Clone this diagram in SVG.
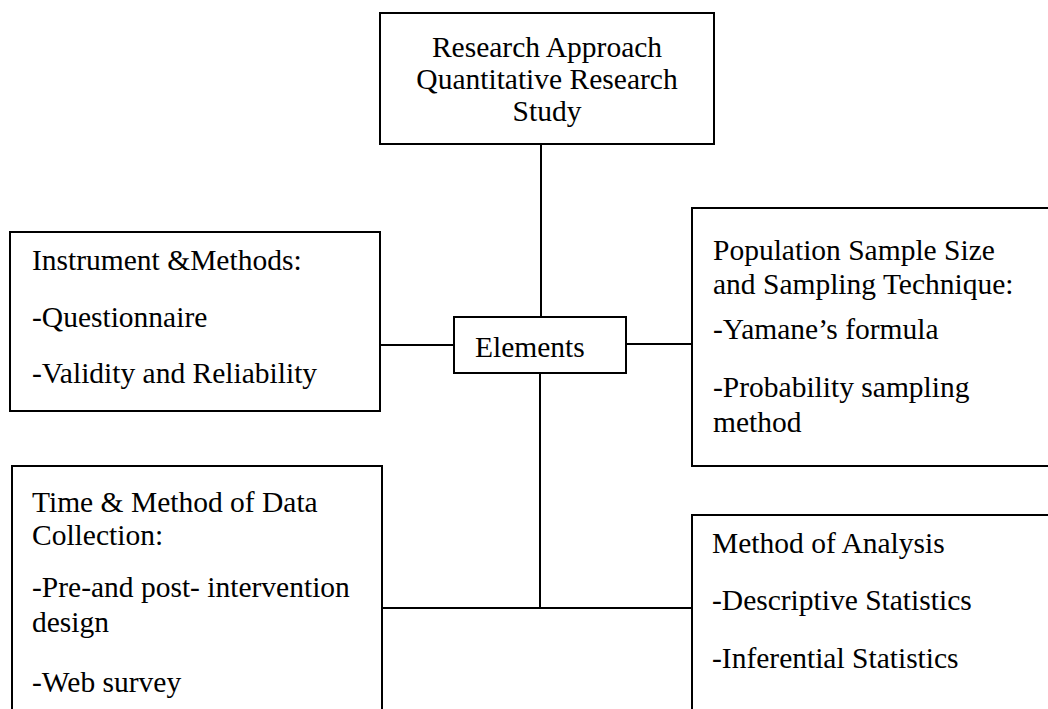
<svg xmlns="http://www.w3.org/2000/svg" width="1048" height="709" viewBox="0 0 1048 709">
<style>
.box{fill:#fff;stroke:#000;stroke-width:2}
.ln{stroke:#000;stroke-width:2;fill:none}
text{font-family:"Liberation Serif","Times New Roman",serif;font-size:29.5px;fill:#000}
.c{text-anchor:middle}
</style>
<rect width="1048" height="709" fill="#fff"/>
<g id="connectors">
<line class="ln" x1="541" y1="144" x2="541" y2="317"/>
<line class="ln" x1="380" y1="345" x2="454" y2="345"/>
<line class="ln" x1="626" y1="344" x2="692" y2="344"/>
<line class="ln" x1="540" y1="373" x2="540" y2="608"/>
<line class="ln" x1="382" y1="608" x2="692" y2="608"/>
</g>
<g id="approach">
<rect class="box" x="380" y="13" width="334" height="131"/>
<text class="c" x="547" y="57">Research Approach</text>
<text class="c" x="547" y="89">Quantitative Research</text>
<text class="c" x="547" y="121">Study</text>
</g>
<g id="instrument">
<rect class="box" x="10" y="232" width="370" height="179"/>
<text x="32" y="270">Instrument &amp;Methods:</text>
<text x="32" y="327">-Questionnaire</text>
<text x="32" y="383">-Validity and Reliability</text>
</g>
<g id="elements">
<rect class="box" x="454" y="317" width="172" height="56"/>
<text x="475" y="357">Elements</text>
</g>
<g id="population">
<rect class="box" x="692" y="208" width="400" height="258"/>
<text x="713" y="260">Population Sample Size</text>
<text x="713" y="294">and Sampling Technique:</text>
<text x="713" y="339">-Yamane’s formula</text>
<text x="713" y="397">-Probability sampling</text>
<text x="713" y="432">method</text>
</g>
<g id="collection">
<rect class="box" x="12" y="466" width="370" height="300"/>
<text x="32" y="512">Time &amp; Method of Data</text>
<text x="32" y="545">Collection:</text>
<text x="32" y="597">-Pre-and post- intervention</text>
<text x="32" y="632">design</text>
<text x="32" y="692">-Web survey</text>
</g>
<g id="analysis">
<rect class="box" x="692" y="515" width="400" height="250"/>
<text x="712" y="553">Method of Analysis</text>
<text x="712" y="610">-Descriptive Statistics</text>
<text x="712" y="668">-Inferential Statistics</text>
</g>
</svg>
